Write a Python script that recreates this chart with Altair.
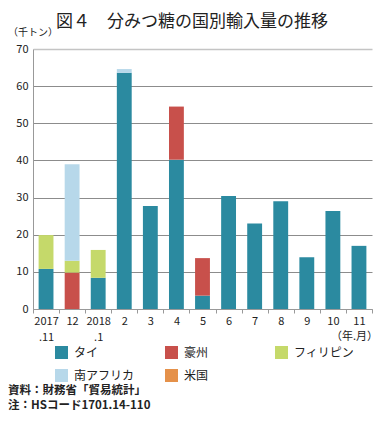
import altair as alt
import pandas as pd

months = ["2017|.11", "12", "2018|.1", "2", "3", "4", "5", "6", "7", "8", "9", "10", "11"]
series = ["タイ", "豪州", "フィリピン", "南アフリカ", "米国"]
colors = ["#2b8aa0", "#c8504b", "#c5d96a", "#b7d8ea", "#e5914a"]
thai = [10.8, 0, 8.4, 63.6, 27.7, 40.2, 3.6, 30.4, 23.0, 29.0, 13.9, 26.4, 17.0]
aus = [0, 9.8, 0, 0, 0, 14.3, 10.1, 0, 0, 0, 0, 0, 0]
phil = [9.1, 3.2, 7.5, 0, 0, 0, 0, 0, 0, 0, 0, 0, 0]
safr = [0, 26.0, 0, 1.0, 0, 0, 0, 0, 0, 0, 0, 0, 0]
usa = [0, 0, 0, 0, 0, 0, 0, 0, 0, 0, 0, 0, 0]
y_ticks = [0, 10, 20, 30, 40, 50, 60, 70]

title_text = "図４　分みつ糖の国別輸入量の推移"
unit_text = "（千トン）"
xunit_text = "（年.月）"
note1 = "資料：財務省「貿易統計」"
note2 = "　注：HSコード1701.14-110"

FONT = "Noto Sans CJK JP"

rows = []
for si, (name, vals) in enumerate(zip(series, [thai, aus, phil, safr, usa])):
    for mi, (m, v) in enumerate(zip(months, vals)):
        rows.append({"month": m, "series": name, "order": si, "value": v})
df = pd.DataFrame(rows)

W, H = 339, 260

bars = alt.Chart(df).mark_bar(width={"band": 0.57}).encode(
    x=alt.X("month:N", sort=months, title=None,
            scale=alt.Scale(paddingInner=0, paddingOuter=0),
            axis=alt.Axis(labelExpr="split(datum.label, '|')", labelAngle=0,
                          labelLineHeight=16, labelFontSize=11, labelFont=FONT,
                          labelColor="#222", tickBand="extent", tickSize=4,
                          tickColor="#999", domainColor="#999", labelPadding=2,
                          labelBaseline="top", grid=False)),
    y=alt.Y("value:Q", stack="zero", title=None,
            scale=alt.Scale(domain=[0, 70], nice=False),
            axis=alt.Axis(values=y_ticks, ticks=False, labelFontSize=11, labelFont=FONT,
                          labelColor="#222", labelPadding=5, domainColor="#999",
                          gridColor=alt.condition("datum.value == 70", alt.value("#c4c4c4"), alt.value("#8c8c8c")),
                          gridWidth=alt.condition("datum.value == 70", alt.value(1.5), alt.value(1)))),
    color=alt.Color("series:N", scale=alt.Scale(domain=series, range=colors),
                    legend=alt.Legend(title=None, orient="none", legendX=22, legendY=297,
                                      direction="horizontal",
                                      columns=3, gridAlign="all", columnPadding=30,
                                      rowPadding=10, symbolType="square", symbolSize=169,
                                      symbolStrokeWidth=0, symbolOpacity=1,
                                      labelFont=FONT, labelFontSize=12, labelColor="#222",
                                      labelOffset=6)),
    order=alt.Order("order:Q"),
)

def txt(t, x, y, size, align="left", weight="normal"):
    return alt.Chart(pd.DataFrame({"t": [t]})).mark_text(
        align=align, baseline="middle", font=FONT, fontSize=size,
        fontWeight=weight, color="#222"
    ).encode(text="t:N", x=alt.value(x), y=alt.value(y))

chart = alt.layer(
    bars,
    txt(title_text, 159, -27, 17, align="center"),
    txt(unit_text, -25, -16, 10),
    txt(xunit_text, 345, 28 + H, 11, align="right"),
    txt(note1, -25, 342, 11.5, weight="bold"),
    txt(note2, -25, 357, 11.5, weight="bold"),
).properties(
    width=W, height=H,
    autosize=alt.AutoSizeParams(type="none"),
    padding={"left": 25, "top": 41, "right": 7, "bottom": 105},
).configure_view(stroke=None)

chart.save("out.html", embed_options={"renderer": "svg", "actions": False})
